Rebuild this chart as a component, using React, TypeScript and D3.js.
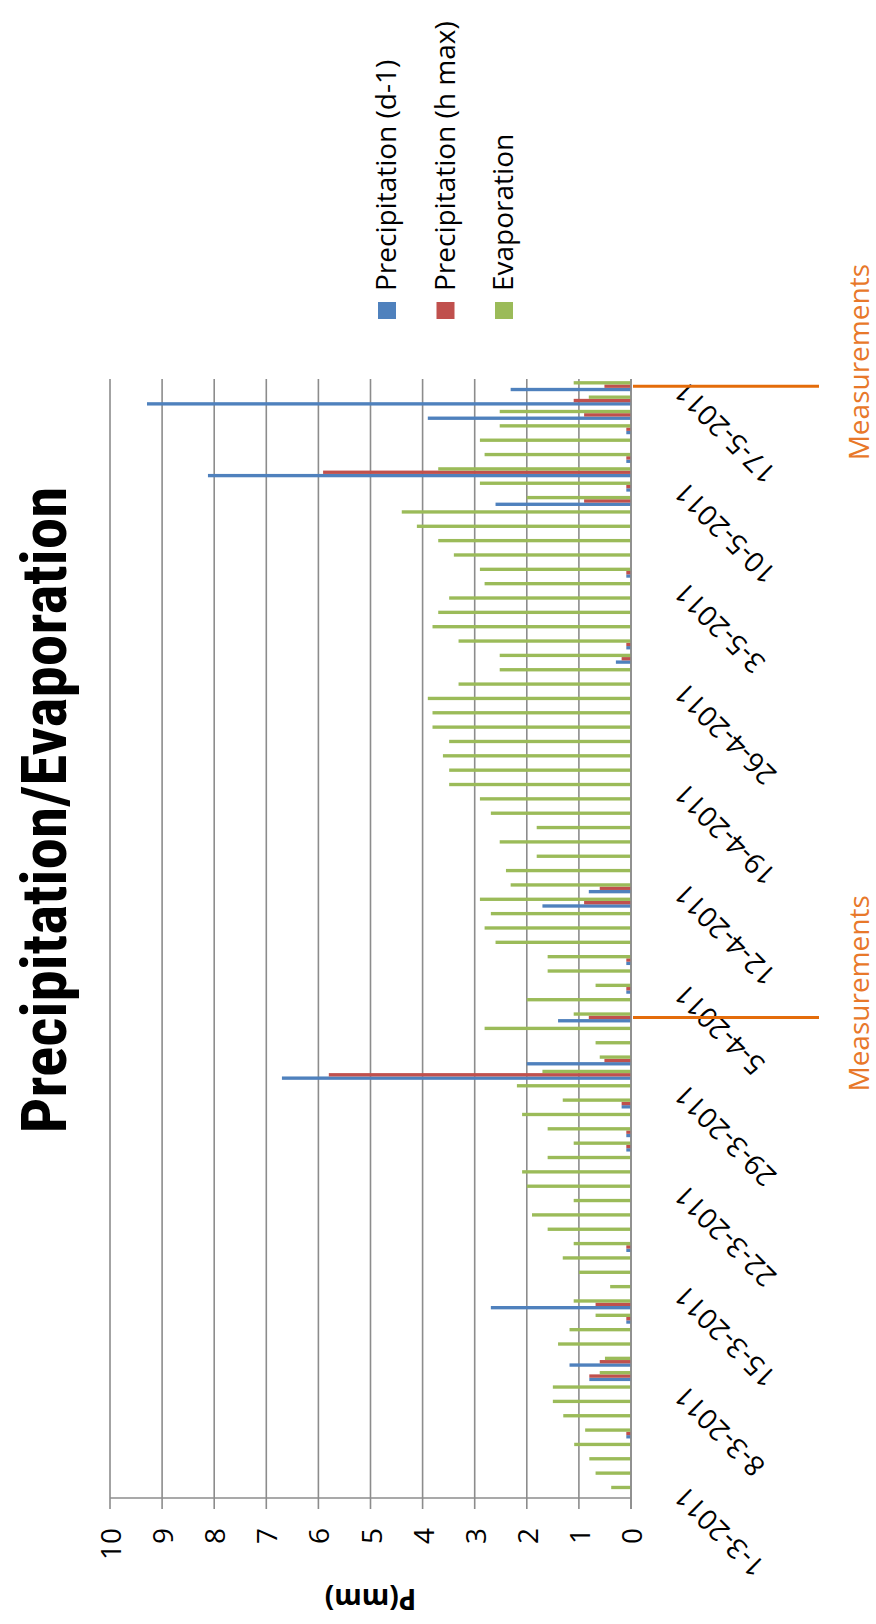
import React from "react";
import * as d3 from "d3";

const dates: string[] = [
  "1-3-2011","2-3-2011","3-3-2011","4-3-2011","5-3-2011","6-3-2011","7-3-2011","8-3-2011","9-3-2011","10-3-2011",
  "11-3-2011","12-3-2011","13-3-2011","14-3-2011","15-3-2011","16-3-2011","17-3-2011","18-3-2011","19-3-2011","20-3-2011",
  "21-3-2011","22-3-2011","23-3-2011","24-3-2011","25-3-2011","26-3-2011","27-3-2011","28-3-2011","29-3-2011","30-3-2011",
  "31-3-2011","1-4-2011","2-4-2011","3-4-2011","4-4-2011","5-4-2011","6-4-2011","7-4-2011","8-4-2011","9-4-2011",
  "10-4-2011","11-4-2011","12-4-2011","13-4-2011","14-4-2011","15-4-2011","16-4-2011","17-4-2011","18-4-2011","19-4-2011",
  "20-4-2011","21-4-2011","22-4-2011","23-4-2011","24-4-2011","25-4-2011","26-4-2011","27-4-2011","28-4-2011","29-4-2011",
  "30-4-2011","1-5-2011","2-5-2011","3-5-2011","4-5-2011","5-5-2011","6-5-2011","7-5-2011","8-5-2011","9-5-2011",
  "10-5-2011","11-5-2011","12-5-2011","13-5-2011","14-5-2011","15-5-2011","16-5-2011","17-5-2011",
];

const dateTicks: string[] = [
  "1-3-2011","8-3-2011","15-3-2011","22-3-2011","29-3-2011","5-4-2011",
  "12-4-2011","19-4-2011","26-4-2011","3-5-2011","10-5-2011","17-5-2011",
];

const valueTicks: number[] = [0, 1, 2, 3, 4, 5, 6, 7, 8, 9, 10];

const measurementDates: string[] = ["3-4-2011", "17-5-2011"];

const precipD1: number[] = [
  0, 0, 0, 0, 0.09, 0, 0, 0, 0.8, 1.18,
  0, 0, 0.09, 2.69, 0, 0, 0, 0.09, 0, 0,
  0, 0, 0, 0, 0.09, 0.09, 0, 0.18, 0, 6.7,
  2.0, 0, 0, 1.4, 0, 0.09, 0, 0.09, 0, 0,
  0, 1.7, 0.81, 0, 0, 0, 0, 0, 0, 0,
  0, 0, 0, 0, 0, 0, 0, 0, 0.29, 0.09,
  0, 0, 0, 0, 0.09, 0, 0, 0, 0, 2.6,
  0.09, 8.12, 0.09, 0, 0.09, 3.9, 9.29, 2.31,
];

const precipHmax: number[] = [
  0, 0, 0, 0, 0.09, 0, 0, 0, 0.8, 0.6,
  0, 0, 0.09, 0.68, 0, 0, 0, 0.09, 0, 0,
  0, 0, 0, 0, 0.09, 0.09, 0, 0.18, 0, 5.8,
  0.51, 0, 0, 0.81, 0, 0.09, 0, 0.09, 0, 0,
  0, 0.9, 0.6, 0, 0, 0, 0, 0, 0, 0,
  0, 0, 0, 0, 0, 0, 0, 0, 0.18, 0.09,
  0, 0, 0, 0, 0.09, 0, 0, 0, 0, 0.9,
  0.09, 5.91, 0.09, 0, 0.09, 0.9, 1.1, 0.51,
];

const evaporation: number[] = [
  0.38, 0.68, 0.8, 1.09, 0.88, 1.3, 1.5, 1.5, 0.6, 0.5,
  1.4, 1.18, 0.68, 1.1, 0.4, 1.0, 1.31, 1.1, 1.6, 1.9,
  1.1, 2.0, 2.09, 1.6, 1.1, 1.6, 2.09, 1.31, 2.19, 1.7,
  0.6, 0.68, 2.81, 1.1, 2.0, 0.68, 1.6, 1.6, 2.6, 2.81,
  2.69, 2.9, 2.31, 2.4, 1.81, 2.52, 1.81, 2.69, 2.9, 3.49,
  3.49, 3.61, 3.49, 3.81, 3.81, 3.9, 3.31, 2.52, 2.52, 3.31,
  3.81, 3.7, 3.49, 2.81, 2.9, 3.4, 3.7, 4.11, 4.4, 2.0,
  2.9, 3.7, 2.81, 2.9, 2.52, 2.52, 0.81, 1.1,
];

const seriesNames: string[] = ["Precipitation (d-1)", "Precipitation (h max)", "Evaporation"];
const seriesColors: string[] = ["#4F81BD", "#C0504D", "#9BBB59"];

const W = 876;
const H = 1624;
const FONT = "'Open Sans', 'Noto Sans', sans-serif";

export default function App() {
  const plotTop = 379;
  const plotBottom = 1498;
  const x = d3.scaleLinear().domain([0, 10]).range([631, 110]);
  const y = d3.scaleBand<string>().domain(dates).range([plotBottom, plotTop]).padding(0);
  const series = [
    { key: "d1", values: precipD1, color: seriesColors[0] },
    { key: "hmax", values: precipHmax, color: seriesColors[1] },
    { key: "evap", values: evaporation, color: seriesColors[2] },
  ];
  const inner = d3
    .scaleBand<string>()
    .domain(["evap", "hmax", "d1"])
    .range([0, y.bandwidth()])
    .paddingInner(0)
    .paddingOuter(0.64);
  const cy = (d: string) => (y(d) as number) + y.bandwidth() / 2;
  const x0 = x(0);
  const gridColor = "#8c8c8c";

  return (
    <div style={{ position: "absolute", left: 0, top: 0 }}>
      <svg width={W} height={H} viewBox={`0 0 ${W} ${H}`} style={{ display: "block", background: "#fff" }}>
        {/* Title */}
        <text
          transform={`translate(66, 810) rotate(-90)`}
          textAnchor="middle"
          fontFamily="'Liberation Sans Narrow', 'Roboto Condensed', 'Liberation Sans', sans-serif"
          fontWeight="bold"
          fontSize={63}
          textLength={647}
          lengthAdjust="spacingAndGlyphs"
          fill="#000"
        >
          Precipitation/Evaporation
        </text>

        {/* Gridlines */}
        {valueTicks.map((t) => (
          <line
            key={"g" + t}
            x1={x(t)}
            x2={x(t)}
            y1={plotTop}
            y2={plotBottom + 11}
            stroke={gridColor}
            strokeWidth={1.6}
          />
        ))}
        {/* value axis line (bottom) */}
        <line x1={x(10)} x2={x0} y1={plotBottom} y2={plotBottom} stroke={gridColor} strokeWidth={1.6} />

        {/* Bars */}
        {series.map((s) =>
          s.values.map((v, i) =>
            v > 0 ? (
              <rect
                key={s.key + i}
                x={x(v)}
                width={x0 - x(v)}
                y={(y(dates[i]) as number) + (inner(s.key) as number)}
                height={inner.bandwidth()}
                fill={s.color}
              />
            ) : null
          )
        )}

        {/* Category axis line */}
        <line x1={x0} x2={x0} y1={plotTop} y2={plotBottom + 11} stroke={gridColor} strokeWidth={1.6} />

        {/* Value tick labels */}
        {valueTicks.map((t) => (
          <text
            key={"t" + t}
            transform={`translate(${x(t)}, 1528) rotate(-90)`}
            textAnchor="end"
            dominantBaseline="central"
            fontFamily={FONT}
            fontSize={28}
            fill="#000"
          >
            {t}
          </text>
        ))}

        {/* Value axis title */}
        <text
          transform={`translate(${(x(0) + x(10)) / 2}, 1600) rotate(180)`}
          textAnchor="middle"
          dominantBaseline="central"
          fontFamily={FONT}
          fontWeight="bold"
          fontSize={28}
          fill="#000"
        >
          P(mm)
        </text>

        {/* Date tick labels */}
        {dateTicks.map((d) => (
          <text
            key={"d" + d}
            transform={`translate(686, ${cy(d) - 6.5}) rotate(-135)`}
            textAnchor="end"
            fontFamily={FONT}
            fontSize={28}
            fill="#000"
          >
            {d}
          </text>
        ))}

        {/* Measurement markers */}
        {measurementDates.map((d) => (
          <g key={"m" + d}>
            <line x1={633} x2={819} y1={cy(d)} y2={cy(d)} stroke="#E46C0A" strokeWidth={3} />
            <text
              transform={`translate(869, ${cy(d) - 24}) rotate(-90)`}
              textAnchor="middle"
              fontFamily={FONT}
              fontSize={28}
              fill="#E8782A"
            >
              Measurements
            </text>
          </g>
        ))}

        {/* Legend */}
        {seriesNames.map((name, i) => {
          const lx = 378 + i * 58.5;
          return (
            <g key={"l" + i}>
              <rect x={lx} y={302} width={18} height={17} fill={seriesColors[i]} />
              <text
                transform={`translate(${lx + 18}, 291) rotate(-90)`}
                textAnchor="start"
                fontFamily={FONT}
                fontSize={28}
                fill="#000"
              >
                {name}
              </text>
            </g>
          );
        })}
      </svg>
    </div>
  );
}
